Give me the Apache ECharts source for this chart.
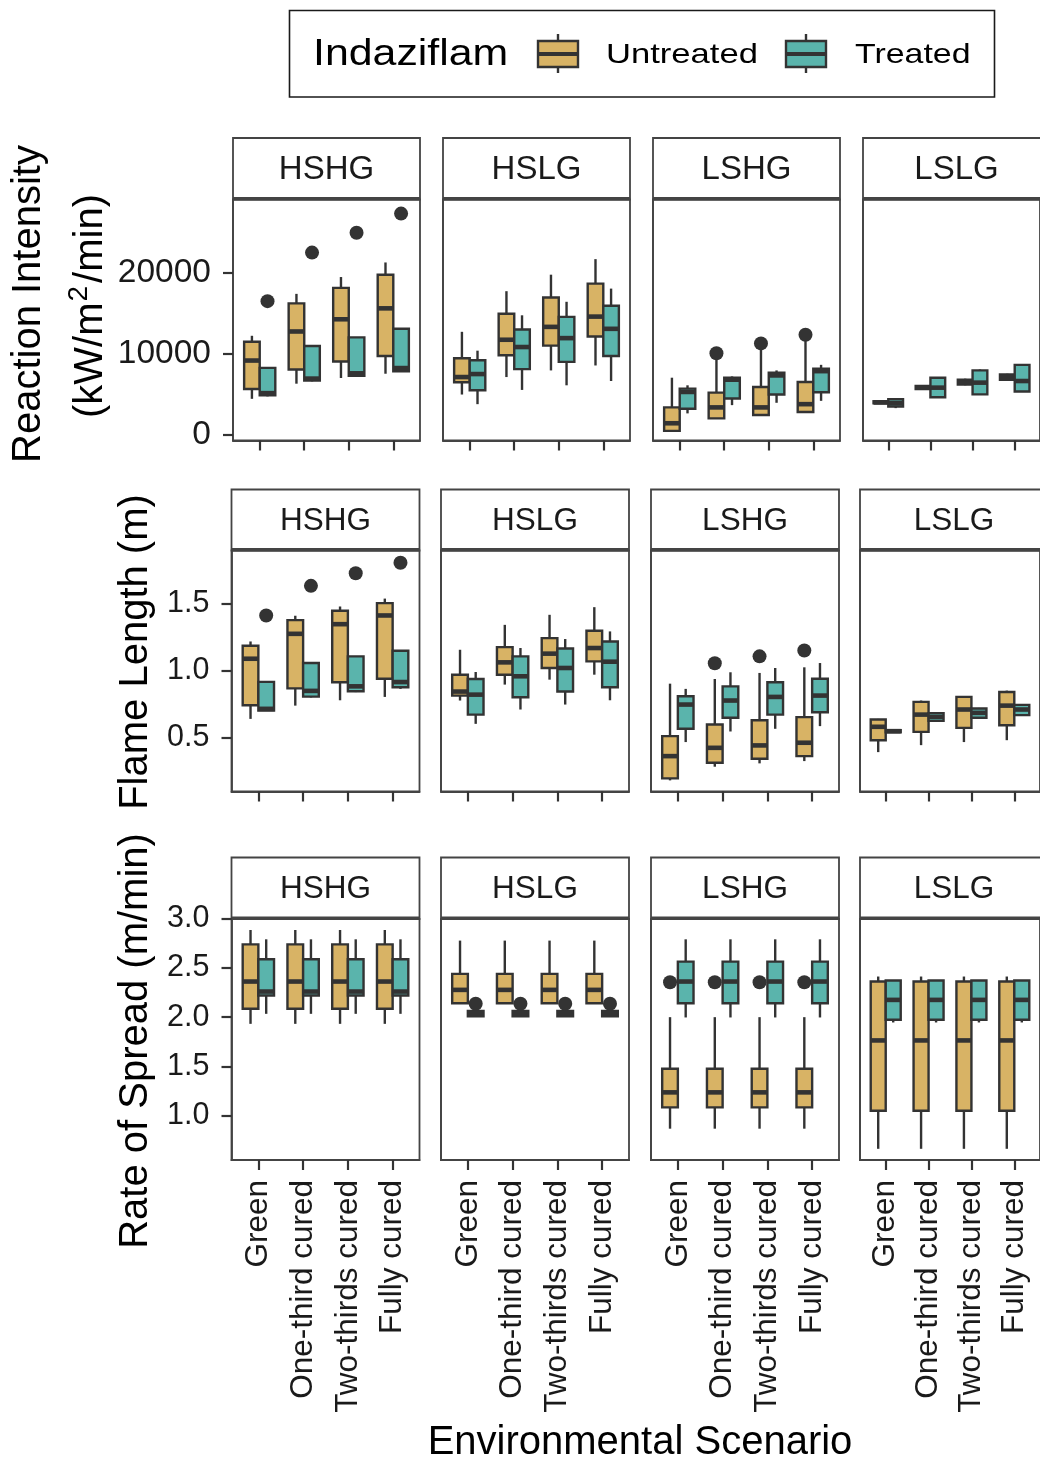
<!DOCTYPE html>
<html>
<head>
<meta charset="utf-8">
<script src="https://cdn.jsdelivr.net/npm/echarts@6/dist/echarts.min.js"></script>
<style>
  html, body { margin: 0; padding: 0; background: #ffffff; }
  #chart { width: 1040px; height: 1462px; }
</style>
</head>
<body>
<div id="chart"></div>
<script>
// ---- data ---------------------------------------------------------------
const categories = ['Green', 'One-third cured', 'Two-thirds cured', 'Fully cured'];
const sites = ['HSHG', 'HSLG', 'LSHG', 'LSLG'];
const treatments = ['Untreated', 'Treated'];

// Box summaries per scenario: [lower whisker, Q1, median, Q3, upper whisker]
// Reaction intensity (kW/m2/min)
const riHSHGUntreated = [[4450, 5670, 9180, 11500, 12240], [6320, 8080, 12770, 16240, 17420], [7020, 9060, 14280, 18160, 19500], [7550, 9750, 15630, 19790, 21300]];
const riHSHGTreated   = [[4750, 4900, 5150, 8280, 8280], [6600, 6700, 6950, 10980, 10980], [7200, 7300, 7600, 12040, 12040], [7800, 7850, 8250, 13100, 13100]];
const riHSLGUntreated = [[4980, 6490, 7140, 9470, 12730], [7140, 9830, 11750, 14970, 17750], [7960, 11020, 13340, 16970, 19790], [8570, 12160, 14610, 18690, 21710]];
const riHSLGTreated   = [[3790, 5510, 7510, 9220, 10400], [5550, 8120, 10850, 13020, 14770], [6120, 9020, 11950, 14570, 16440], [6650, 9750, 13100, 15950, 18070]];
const riLSHGUntreated = [[410, 490, 1430, 3390, 7060], [2000, 2040, 3390, 5220, 9380], [2450, 2450, 3390, 5920, 10610], [2820, 2820, 3790, 6530, 11630]];
const riLSHGTreated   = [[2650, 3220, 5300, 5710, 6120], [3670, 4490, 6810, 7060, 7220], [3960, 4980, 7340, 7670, 7960], [4200, 5260, 7870, 8160, 8650]];
const riLSLGUntreated = [[3850, 3900, 4000, 4150, 4200], [5590, 5650, 5830, 6050, 6120], [6120, 6200, 6450, 6800, 6940], [6730, 6800, 7140, 7450, 7550]];
const riLSLGTreated   = [[3300, 3500, 3900, 4400, 4450], [4610, 4650, 5830, 7060, 7140], [4980, 5000, 6450, 7960, 8080], [5300, 5350, 6650, 8650, 8750]];

// Flame length (m)
const flHSHGUntreated = [[0.640, 0.742, 1.089, 1.186, 1.218], [0.739, 0.868, 1.275, 1.377, 1.410], [0.779, 0.913, 1.347, 1.447, 1.479], [0.804, 0.940, 1.412, 1.504, 1.538]];
const flHSHGTreated   = [[0.700, 0.702, 0.715, 0.916, 0.916], [0.800, 0.806, 0.849, 1.057, 1.057], [0.840, 0.846, 0.883, 1.107, 1.107], [0.864, 0.876, 0.915, 1.149, 1.149]];
const flHSLGUntreated = [[0.777, 0.814, 0.844, 0.970, 1.156], [0.896, 0.970, 1.062, 1.176, 1.342], [0.933, 1.020, 1.127, 1.243, 1.417], [0.970, 1.069, 1.169, 1.298, 1.474]];
const flHSLGTreated   = [[0.603, 0.672, 0.821, 0.938, 0.990], [0.710, 0.801, 0.958, 1.107, 1.169], [0.747, 0.844, 1.020, 1.166, 1.236], [0.779, 0.876, 1.067, 1.218, 1.293]];
const flLSHGUntreated = [[0.181, 0.196, 0.362, 0.511, 0.903], [0.283, 0.313, 0.424, 0.598, 0.938], [0.308, 0.342, 0.442, 0.630, 0.983], [0.325, 0.362, 0.462, 0.653, 1.025]];
const flLSHGTreated   = [[0.467, 0.566, 0.747, 0.809, 0.864], [0.546, 0.648, 0.777, 0.883, 0.988], [0.566, 0.672, 0.804, 0.913, 1.020], [0.586, 0.690, 0.814, 0.940, 1.057]];
const flLSLGUntreated = [[0.392, 0.481, 0.581, 0.635, 0.640], [0.444, 0.543, 0.672, 0.767, 0.777], [0.467, 0.573, 0.710, 0.804, 0.809], [0.481, 0.593, 0.739, 0.841, 0.851]];
const flLSLGTreated   = [[0.536, 0.540, 0.548, 0.556, 0.561], [0.620, 0.625, 0.655, 0.683, 0.688], [0.643, 0.648, 0.685, 0.718, 0.722], [0.662, 0.668, 0.710, 0.745, 0.750]];

// Rate of spread (m/min)
const rosHSHGUntreated = [[1.932, 2.085, 2.363, 2.742, 2.888], [1.932, 2.085, 2.363, 2.742, 2.888], [1.932, 2.085, 2.363, 2.742, 2.888], [1.932, 2.085, 2.363, 2.742, 2.888]];
const rosHSHGTreated   = [[2.034, 2.220, 2.261, 2.590, 2.793], [2.034, 2.220, 2.261, 2.590, 2.793], [2.034, 2.220, 2.261, 2.590, 2.793], [2.034, 2.220, 2.261, 2.590, 2.793]];
const rosHSLGUntreated = [[2.142, 2.142, 2.278, 2.441, 2.780], [2.142, 2.142, 2.278, 2.441, 2.780], [2.142, 2.142, 2.278, 2.441, 2.780], [2.142, 2.142, 2.278, 2.441, 2.780]];
const rosHSLGTreated   = [[2.007, 2.010, 2.035, 2.064, 2.064], [2.007, 2.010, 2.035, 2.064, 2.064], [2.007, 2.010, 2.035, 2.064, 2.064], [2.007, 2.010, 2.035, 2.064, 2.064]];
const rosLSHGUntreated = [[0.864, 1.081, 1.234, 1.475, 2.000], [0.864, 1.081, 1.234, 1.475, 2.000], [0.864, 1.081, 1.234, 1.475, 2.000], [0.864, 1.081, 1.234, 1.475, 2.000]];
const rosLSHGTreated   = [[1.997, 2.142, 2.363, 2.566, 2.793], [1.997, 2.142, 2.363, 2.566, 2.793], [1.997, 2.142, 2.363, 2.566, 2.793], [1.997, 2.142, 2.363, 2.566, 2.793]];
const rosLSLGUntreated = [[0.659, 1.047, 1.763, 2.363, 2.414], [0.659, 1.047, 1.763, 2.363, 2.414], [0.659, 1.047, 1.763, 2.363, 2.414], [0.659, 1.047, 1.763, 2.363, 2.414]];
const rosLSLGTreated   = [[1.946, 1.973, 2.176, 2.373, 2.373], [1.946, 1.973, 2.176, 2.373, 2.373], [1.946, 1.973, 2.176, 2.373, 2.373], [1.946, 1.973, 2.176, 2.373, 2.373]];

// Outlying points: [site, scenario index, treatment index, value]
const riOutliers = [['HSHG', 0, 1, 16520], ['HSHG', 1, 1, 22520], ['HSHG', 2, 1, 24970], ['HSHG', 3, 1, 27340],
                    ['LSHG', 1, 0, 10080], ['LSHG', 2, 0, 11300], ['LSHG', 3, 0, 12360]];
const flOutliers = [['HSHG', 0, 1, 1.412], ['HSHG', 1, 1, 1.633], ['HSHG', 2, 1, 1.727], ['HSHG', 3, 1, 1.806],
                    ['LSHG', 1, 0, 1.055], ['LSHG', 2, 0, 1.107], ['LSHG', 3, 0, 1.151]];
const rosOutliers = [['HSLG', 0, 1, 2.136], ['HSLG', 1, 1, 2.136], ['HSLG', 2, 1, 2.136], ['HSLG', 3, 1, 2.136],
                     ['LSHG', 0, 0, 2.356], ['LSHG', 1, 0, 2.356], ['LSHG', 2, 0, 2.356], ['LSHG', 3, 0, 2.356]];

// Axis ticks
const riTicks = [0, 10000, 20000];
const flTicks = [0.5, 1.0, 1.5];
const rosTicks = [1.0, 1.5, 2.0, 2.5, 3.0];
const scenarioTicks = [1, 2, 3, 4];

// ---- styling / layout ---------------------------------------------------
const FILL = { Untreated: '#D8B365', Treated: '#5AB4AC' };
const LINE = '#333333';
const FRAME = '#444444';
const TEXT = '#1a1a1a';
const FONT = '"Liberation Sans", Arial, Helvetica, sans-serif';
const DODGE = 0.35;   // width of one box in scenario units
const STROKE = 2.4;   // box outline / whisker width
const MEDIAN = 4.6;   // median bar width

const rows = [
  {
    data: {
      HSHG: [riHSHGUntreated, riHSHGTreated], HSLG: [riHSLGUntreated, riHSLGTreated],
      LSHG: [riLSHGUntreated, riLSHGTreated], LSLG: [riLSLGUntreated, riLSLGTreated]
    },
    outliers: riOutliers, ticks: riTicks, range: [-700, 29080],
    fmt: v => String(v), tickFont: 33.5, stripFont: 33,
    stripTop: 138, panelTop: 199.5, panelBottom: 440.5,
    lefts: [233, 443, 653, 863], width: 187
  },
  {
    data: {
      HSHG: [flHSHGUntreated, flHSHGTreated], HSLG: [flHSLGUntreated, flHSLGTreated],
      LSHG: [flLSHGUntreated, flLSHGTreated], LSLG: [flLSLGUntreated, flLSLGTreated]
    },
    outliers: flOutliers, ticks: flTicks, range: [0.098, 1.897],
    fmt: v => v.toFixed(1), tickFont: 30.5, stripFont: 31.5,
    stripTop: 489.5, panelTop: 550.5, panelBottom: 791.5,
    lefts: [231.5, 441, 651, 860], width: 188
  },
  {
    data: {
      HSHG: [rosHSHGUntreated, rosHSHGTreated], HSLG: [rosHSLGUntreated, rosHSLGTreated],
      LSHG: [rosLSHGUntreated, rosLSHGTreated], LSLG: [rosLSLGUntreated, rosLSLGTreated]
    },
    outliers: rosOutliers, ticks: rosTicks, range: [0.545, 3.0],
    fmt: v => v.toFixed(1), tickFont: 30.5, stripFont: 31.5,
    stripTop: 857.5, panelTop: 919, panelBottom: 1160,
    lefts: [231.5, 441, 651, 860], width: 188
  }
];

// Draws one dodged box (whiskers, box, median) from the five-number summary.
function boxRenderer(side, fill) {
  return function (params, api) {
    const x = api.value(0);
    const xa = side === 0 ? x - DODGE : x;
    const xb = side === 0 ? x : x + DODGE;
    const xm = (xa + xb) / 2;
    const lo = api.coord([xm, api.value(1)]);
    const q1 = api.coord([xa, api.value(2)]);
    const med = api.coord([xa, api.value(3)]);
    const medR = api.coord([xb, api.value(3)]);
    const q3 = api.coord([xb, api.value(4)]);
    const hi = api.coord([xm, api.value(5)]);
    const lineStyle = { stroke: LINE, lineWidth: STROKE };
    return {
      type: 'group',
      children: [
        { type: 'line', shape: { x1: lo[0], y1: lo[1], x2: lo[0], y2: q1[1] }, style: lineStyle },
        { type: 'line', shape: { x1: hi[0], y1: hi[1], x2: hi[0], y2: q3[1] }, style: lineStyle },
        { type: 'rect', shape: { x: q1[0], y: q3[1], width: q3[0] - q1[0], height: q1[1] - q3[1] },
          style: { fill: fill, stroke: LINE, lineWidth: STROKE } },
        { type: 'line', shape: { x1: med[0], y1: med[1], x2: medR[0], y2: med[1] },
          style: { stroke: LINE, lineWidth: MEDIAN } }
      ]
    };
  };
}

const grids = [], xAxes = [], yAxes = [], series = [], graphics = [];

rows.forEach((row, r) => {
  sites.forEach((site, c) => {
    const gi = r * 4 + c;
    const left = row.lefts[c];
    grids.push({
      left: left, top: row.panelTop, width: row.width, height: row.panelBottom - row.panelTop,
      show: true, borderColor: FRAME, borderWidth: 1.8, backgroundColor: '#ffffff'
    });
    xAxes.push({
      gridIndex: gi, type: 'value', min: 0.4, max: 4.6,
      splitLine: { show: false },
      axisLine: { show: true, onZero: false, lineStyle: { color: FRAME, width: 1.8 } },
      axisTick: { show: true, customValues: scenarioTicks, length: 10, lineStyle: { color: LINE, width: 2.2 } },
      axisLabel: {
        show: r === rows.length - 1, customValues: scenarioTicks,
        formatter: v => categories[Math.round(v) - 1],
        rotate: 90, margin: 20, fontSize: 31.5, fontFamily: FONT, color: TEXT
      }
    });
    yAxes.push({
      gridIndex: gi, type: 'value', min: row.range[0], max: row.range[1],
      splitLine: { show: false },
      axisLine: { show: true, onZero: false, lineStyle: { color: FRAME, width: 1.8 } },
      axisTick: { show: c === 0, customValues: row.ticks, length: 10, lineStyle: { color: LINE, width: 2.2 } },
      axisLabel: {
        show: c === 0, customValues: row.ticks, formatter: row.fmt,
        margin: 22, fontSize: row.tickFont, fontFamily: FONT, color: TEXT
      }
    });

    treatments.forEach((t, ti) => {
      series.push({
        type: 'custom', name: t, xAxisIndex: gi, yAxisIndex: gi,
        renderItem: boxRenderer(ti, FILL[t]),
        encode: { x: 0, y: [1, 2, 3, 4, 5] },
        data: row.data[site][ti].map((s, i) => [i + 1].concat(s)),
        z: 2
      });
    });

    const pts = row.outliers.filter(o => o[0] === site)
      .map(o => [o[1] + 1 + (o[2] === 0 ? -DODGE / 2 : DODGE / 2), o[3]]);
    if (pts.length) {
      series.push({
        type: 'scatter', xAxisIndex: gi, yAxisIndex: gi, data: pts,
        symbol: 'circle', symbolSize: 14, itemStyle: { color: LINE, opacity: 1 }, z: 3
      });
    }

    // facet strip: white box with a heavier rule where it meets the panel
    graphics.push({
      type: 'rect',
      shape: { x: left, y: row.stripTop, width: row.width, height: row.panelTop - row.stripTop },
      style: { fill: '#ffffff', stroke: FRAME, lineWidth: 1.8 }
    });
    graphics.push({
      type: 'line',
      shape: { x1: left, y1: row.panelTop - 0.9, x2: left + row.width, y2: row.panelTop - 0.9 },
      style: { stroke: FRAME, lineWidth: 3.4 }
    });
    graphics.push({
      type: 'text', x: left + row.width / 2, y: (row.stripTop + row.panelTop) / 2 + 1,
      style: { text: site, fill: TEXT, font: row.stripFont + 'px ' + FONT, align: 'center', verticalAlign: 'middle' }
    });
  });
});

// axis titles
function vTitle(text, x, y) {
  return {
    type: 'text', x: x, y: y, rotation: Math.PI / 2,
    style: { text: text, fill: '#000000', font: '40px ' + FONT, align: 'center', verticalAlign: 'middle' }
  };
}
graphics.push(vTitle('Reaction Intensity', 29, 304));
graphics.push({
  type: 'text', x: 88, y: 306, rotation: Math.PI / 2,
  style: {
    text: '{u|(kW/m}{s|2}{u|/min)}', align: 'center', verticalAlign: 'middle',
    rich: {
      u: { fill: '#000000', font: '40px ' + FONT, lineHeight: 46, verticalAlign: 'bottom' },
      s: { fill: '#000000', font: '28px ' + FONT, lineHeight: 46, verticalAlign: 'top', padding: [0, 3, 0, 1] }
    }
  }
});
graphics.push(vTitle('Flame Length (m)', 136, 652));
graphics.push(vTitle('Rate of Spread (m/min)', 136, 1041));
graphics.push({
  type: 'text', x: 640, y: 1443,
  style: { text: 'Environmental Scenario', fill: '#000000', font: '40px ' + FONT, align: 'center', verticalAlign: 'middle' }
});

// legend
graphics.push({
  type: 'rect', shape: { x: 289.5, y: 10.5, width: 705, height: 86.5 },
  style: { fill: '#ffffff', stroke: '#1a1a1a', lineWidth: 1.6 }
});
graphics.push({
  type: 'text', x: 313, y: 55.5, scaleX: 1.19,
  style: { text: 'Indaziflam', fill: '#000000', font: '36px ' + FONT, align: 'left', verticalAlign: 'middle' }
});
const legendKeys = [
  { name: 'Untreated', keyLeft: 538, textLeft: 606, scale: 1.235 },
  { name: 'Treated', keyLeft: 786, textLeft: 855, scale: 1.21 }
];
legendKeys.forEach(k => {
  const cx = k.keyLeft + 20;
  graphics.push({ type: 'line', shape: { x1: cx, y1: 34, x2: cx, y2: 73 }, style: { stroke: LINE, lineWidth: STROKE } });
  graphics.push({ type: 'rect', shape: { x: k.keyLeft, y: 41, width: 40, height: 26 },
                  style: { fill: FILL[k.name], stroke: LINE, lineWidth: STROKE } });
  graphics.push({ type: 'line', shape: { x1: k.keyLeft, y1: 54, x2: k.keyLeft + 40, y2: 54 },
                  style: { stroke: LINE, lineWidth: 4 } });
  graphics.push({
    type: 'text', x: k.textLeft, y: 55.5, scaleX: k.scale,
    style: { text: k.name, fill: '#000000', font: '28px ' + FONT, align: 'left', verticalAlign: 'middle' }
  });
});

const chart = echarts.init(document.getElementById('chart'), null, { renderer: 'canvas' });
chart.setOption({
  animation: false,
  backgroundColor: '#ffffff',
  grid: grids,
  xAxis: xAxes,
  yAxis: yAxes,
  series: series,
  graphic: { elements: graphics }
});
</script>
</body>
</html>
